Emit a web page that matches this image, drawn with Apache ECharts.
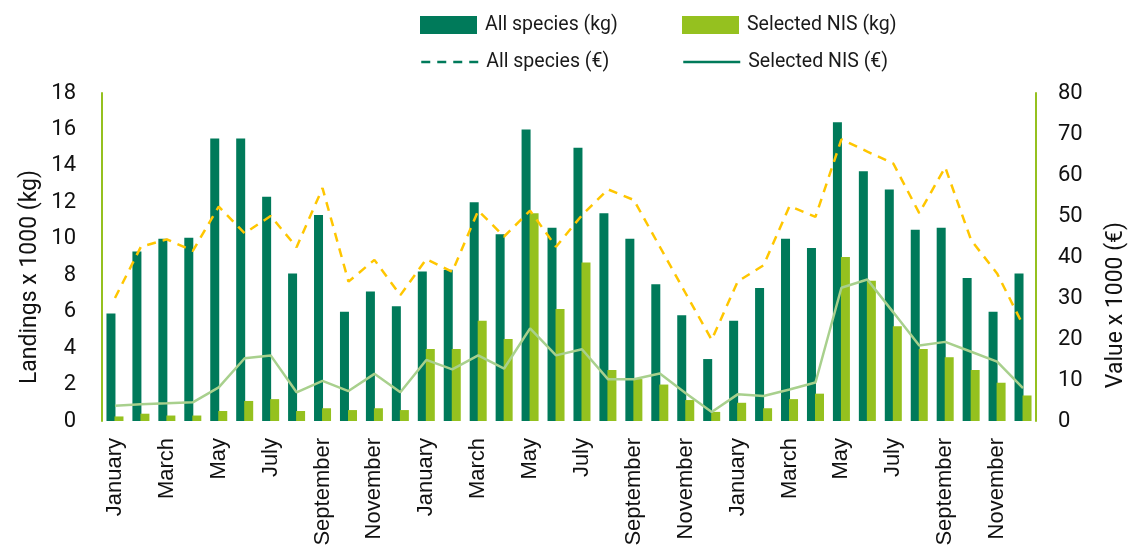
<!DOCTYPE html>
<html><head><meta charset="utf-8">
<script src="https://cdn.jsdelivr.net/npm/echarts@6/dist/echarts.min.js"></script>
<style>html,body{margin:0;padding:0;background:#fff}#c{width:1134px;height:557px}</style>
</head><body><div id="c"></div>
<script>
const months = ['January','February','March','April','May','June','July','August','September','October','November','December'];
const categories = [].concat(months, months, months);
const allSpeciesKg = [5.9,9.3,10.0,10.05,15.5,15.5,12.3,8.1,11.3,6.0,7.1,6.3,
  8.2,8.3,12.0,10.25,16.0,10.6,15.0,11.4,10.0,7.5,5.8,3.4,
  5.5,7.3,10.0,9.5,16.4,13.7,12.7,10.5,10.6,7.85,6.0,8.1];
const nisKg = [0.25,0.4,0.3,0.3,0.55,1.1,1.2,0.55,0.7,0.6,0.7,0.6,
  3.95,3.95,5.5,4.5,11.4,6.15,8.7,2.8,2.3,2.0,1.15,0.5,
  1.0,0.7,1.2,1.5,9.0,7.7,5.2,3.95,3.5,2.8,2.1,1.4];
const allSpeciesEur = [30.0,42.5,44.3,41.5,52.3,45.8,50.0,42.4,56.8,34.0,39.3,30.7,
  39.5,36.4,51.3,45.0,51.3,42.5,50.2,56.5,53.9,42.5,31.1,19.8,
  34.0,38.0,52.4,49.8,68.7,65.7,62.8,50.7,61.9,44.1,36.0,23.4];
const nisEur = [3.7,4.1,4.3,4.55,8.2,15.3,16.0,7.0,9.8,7.3,11.5,7.0,
  14.9,12.6,16.0,12.8,22.6,16.0,17.5,10.2,10.2,11.6,6.75,2.2,
  6.5,6.1,7.7,9.4,32.5,34.5,26.5,18.4,19.3,16.9,14.5,8.0];
const leftTicks = {min:0, max:18, interval:2};
const rightTicks = {min:0, max:80, interval:10};

const DARK = '#007A5A', LIGHT = '#95C11F', YELLOW = '#FFC600', LINEGREEN = '#A8D08D', AXIS = '#95C11F';
const chart = echarts.init(document.getElementById('c'));
const legendBase = {itemWidth:57, itemHeight:18, itemGap:10, textStyle:{fontFamily:'Roboto', fontSize:19.5, color:'#1a1a1a', padding:[0,0,0,3]}, selectedMode:false};
chart.setOption({
  animation:false,
  textStyle:{fontFamily:'Roboto'},
  legend:[
    Object.assign({}, legendBase, {left:415, top:10, data:[{name:'All species (kg)', icon:'rect'}]}),
    Object.assign({}, legendBase, {left:677, top:10, data:[{name:'Selected NIS (kg)', icon:'rect'}]}),
    Object.assign({}, legendBase, {left:415, top:47, data:[{name:'All species (€)', itemStyle:{color:DARK, opacity:0}, lineStyle:{color:DARK, width:2.5, type:[9,7], opacity:1}}]}),
    Object.assign({}, legendBase, {left:677, top:47, data:[{name:'Selected NIS (€)', itemStyle:{color:DARK, opacity:0}, lineStyle:{color:DARK, width:2.5, type:'solid', opacity:1}}]})
  ],
  grid:{left:102, right:98, top:93, bottom:136, containLabel:false},
  xAxis:{type:'category', data:categories, boundaryGap:true,
    axisLine:{show:false}, axisTick:{show:false},
    axisLabel:{interval:1, rotate:90, margin:17, fontFamily:'Liberation Sans', fontSize:22, color:'#111'}},
  yAxis:[
    {type:'value', min:leftTicks.min, max:leftTicks.max, interval:leftTicks.interval, position:'left',
      axisLine:{show:true, lineStyle:{color:AXIS, width:2}}, axisTick:{show:false}, splitLine:{show:false},
      axisLabel:{margin:26, fontSize:22, color:'#111', fontFamily:'Roboto'}},
    {type:'value', min:rightTicks.min, max:rightTicks.max, interval:rightTicks.interval, position:'right',
      axisLine:{show:true, lineStyle:{color:AXIS, width:2}}, axisTick:{show:false}, splitLine:{show:false},
      axisLabel:{margin:22, fontSize:22, color:'#111', fontFamily:'Roboto'}}
  ],
  graphic:[
    {type:'text', left:19, top:170, rotation:Math.PI/2, style:{text:'Landings x 1000 (kg)', font:'23px Roboto', fill:'#111'}},
    {type:'text', left:1105, top:222, rotation:Math.PI/2, style:{text:'Value x 1000 (€)', font:'23px Roboto', fill:'#111'}}
  ],
  series:[
    {name:'All species (kg)', type:'bar', yAxisIndex:0, data:allSpeciesKg, barWidth:9, barGap:'-11%', itemStyle:{color:DARK}},
    {name:'Selected NIS (kg)', type:'bar', yAxisIndex:0, data:nisKg, barWidth:9, itemStyle:{color:LIGHT}},
    {name:'All species (€)', type:'line', yAxisIndex:1, data:allSpeciesEur, symbol:'none', lineStyle:{color:YELLOW, width:2.5, type:[9,7]}, itemStyle:{color:YELLOW}},
    {name:'Selected NIS (€)', type:'line', yAxisIndex:1, data:nisEur, symbol:'none', lineStyle:{color:LINEGREEN, width:2.5}, itemStyle:{color:LINEGREEN}}
  ]
});
</script></body></html>
